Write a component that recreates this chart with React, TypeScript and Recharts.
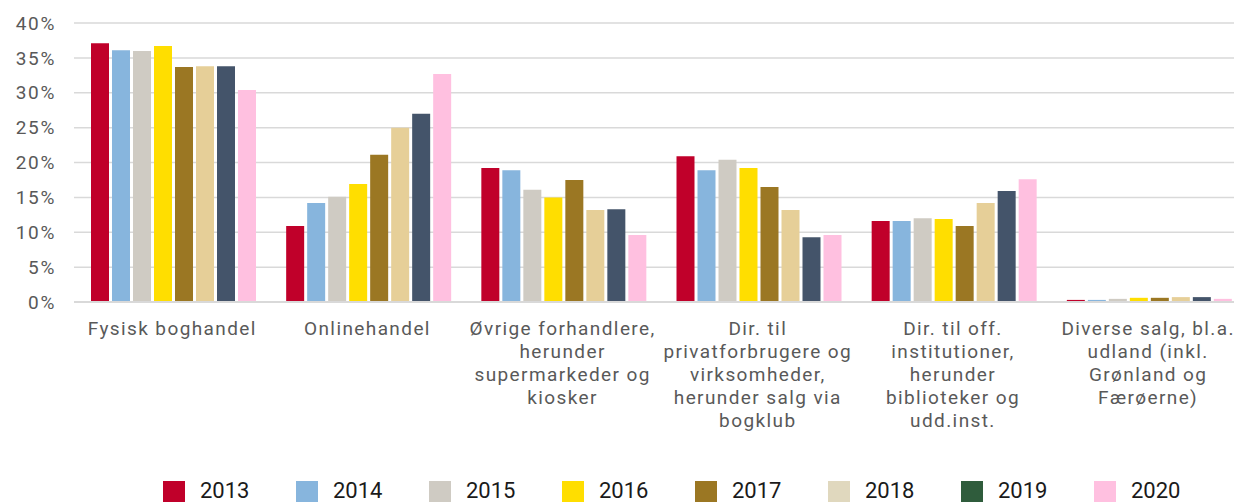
import { BarChart, Bar, XAxis, YAxis, CartesianGrid, Legend } from "recharts";

const kanaler = [
  "Fysisk boghandel",
  "Onlinehandel",
  "Øvrige forhandlere,\nherunder\nsupermarkeder og\nkiosker",
  "Dir. til\nprivatforbrugere og\nvirksomheder,\nherunder salg via\nbogklub",
  "Dir. til off.\ninstitutioner,\nherunder\nbiblioteker og\nudd.inst.",
  "Diverse salg, bl.a.\nudland (inkl.\nGrønland og\nFærøerne)",
];

const aar = ["2013", "2014", "2015", "2016", "2017", "2018", "2019", "2020"];

// andel i procent pr. kanal, en liste pr. år
const v2013 = [37.1, 10.9, 19.2, 20.9, 11.6, 0.3];
const v2014 = [36.1, 14.2, 18.9, 18.9, 11.6, 0.3];
const v2015 = [36.0, 15.1, 16.1, 20.4, 12.0, 0.45];
const v2016 = [36.7, 16.9, 15.0, 19.2, 11.9, 0.6];
const v2017 = [33.7, 21.1, 17.5, 16.5, 10.9, 0.6];
const v2018 = [33.8, 25.0, 13.2, 13.2, 14.2, 0.7];
const v2019 = [33.8, 27.0, 13.3, 9.3, 15.9, 0.7];
const v2020 = [30.4, 32.7, 9.6, 9.6, 17.6, 0.45];

const yTicks = [0, 5, 10, 15, 20, 25, 30, 35, 40];

const serier = [v2013, v2014, v2015, v2016, v2017, v2018, v2019, v2020];
const barFarver = ["#C0002A", "#87B5DD", "#CFCBC3", "#FFDE00", "#9B7723", "#E6CF98", "#44546A", "#FFC0E0"];
const legendFarver = ["#C0002A", "#87B5DD", "#CFCBC3", "#FFDE00", "#9B7723", "#E0D8BE", "#2F5C3C", "#FFC0E0"];

const data = kanaler.map((navn, i) => {
  const row: Record<string, string | number> = { navn };
  aar.forEach((a, j) => {
    row[a] = serier[j][i];
  });
  return row;
});

const FONT = "Roboto, 'Noto Sans', sans-serif";

const KanalTick = (props: any) => {
  const { x, y, payload } = props;
  const lines = String(payload.value).split("\n");
  return (
    <text
      x={x}
      y={y + 31}
      textAnchor="middle"
      fill="#595959"
      fontSize={19}
      fontFamily={FONT}
      letterSpacing={1.4}
    >
      {lines.map((l, i) => (
        <tspan key={i} x={x + 0.7} dy={i === 0 ? 0 : 23}>
          {l}
        </tspan>
      ))}
    </text>
  );
};

const Forklaring = () => (
  <div style={{ display: "flex", paddingLeft: 163, height: 24, fontFamily: FONT }}>
    {aar.map((a, i) => (
      <div key={a} style={{ width: 133, display: "flex", alignItems: "flex-start" }}>
        <span style={{ width: 22, height: 22, marginTop: 3, marginRight: 15, background: legendFarver[i] }} />
        <span style={{ fontSize: 22, lineHeight: "26px", color: "#1a1a1a" }}>{a}</span>
      </div>
    ))}
  </div>
);

const App = () => {
  return (
    <>
      <style>{`body{margin:0}`}</style>
      <div style={{ width: 1234, height: 502, overflow: "hidden" }}>
        <BarChart
          width={1234}
          height={502}
          data={data}
          margin={{ top: 23, right: -11, left: 0, bottom: 0 }}
          barCategoryGap={17}
          barGap={3}
        >
          <CartesianGrid vertical={false} stroke="#D9D9D9" strokeWidth={1.5} />
          <XAxis
            dataKey="navn"
            interval={0}
            height={176}
            tickLine={false}
            tickSize={0}
            axisLine={{ stroke: "#D9D9D9", strokeWidth: 2 }}
            tick={<KanalTick />}
          />
          <YAxis
            width={74}
            domain={[0, 40]}
            ticks={yTicks}
            axisLine={false}
            tickLine={false}
            tickSize={0}
            tickMargin={18}
            tickFormatter={(v) => `${v}%`}
            tick={{ fill: "#595959", fontSize: 19, fontFamily: FONT, letterSpacing: 1.7 }}
          />
          <Legend verticalAlign="bottom" content={<Forklaring />} />
          {aar.map((a, i) => (
            <Bar key={a} dataKey={a} fill={barFarver[i]} isAnimationActive={false} />
          ))}
        </BarChart>
      </div>
    </>
  );
};

export default App;
